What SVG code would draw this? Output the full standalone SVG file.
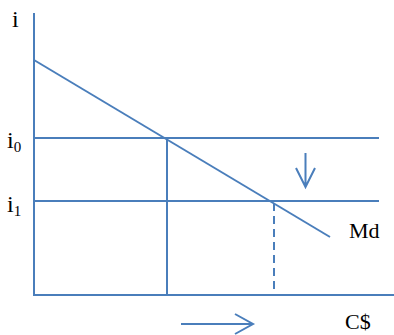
<svg xmlns="http://www.w3.org/2000/svg" width="394" height="335" viewBox="0 0 394 335">
<style>
.ln{stroke:#4A7EBB;stroke-width:2;fill:none}
.dash{stroke-dasharray:8,5}
.t{font-family:"Liberation Serif","Times New Roman",serif;font-size:22px;fill:#000}
.b{font-size:24px}
.s{font-size:15px}
</style>
<rect width="394" height="335" fill="#fff"/>
<g id="connectors">
<line class="ln" x1="34" y1="13" x2="34" y2="296"/>
<line class="ln" x1="33" y1="295" x2="394" y2="295"/>
<line class="ln" x1="34" y1="138" x2="379" y2="138"/>
<line class="ln" x1="34" y1="201" x2="379" y2="201"/>
<line class="ln" x1="34" y1="60" x2="330" y2="237"/>
<line class="ln" x1="167" y1="138" x2="167" y2="295"/>
<line class="ln dash" x1="274" y1="203" x2="274" y2="295"/>
<path class="ln" d="M305.5,153 V187 M296,168 L305.5,187 L315,168"/>
<path class="ln" d="M181,324 H253 M235,314 L253,324 L235,334"/>
</g>
<g id="label-i"><text class="t b" x="12" y="27">i</text></g>
<g id="label-i0"><text class="t b" x="7" y="148">i<tspan class="s" dy="4">0</tspan></text></g>
<g id="label-i1"><text class="t b" x="7" y="212">i<tspan class="s" dy="4">1</tspan></text></g>
<g id="label-md"><text class="t" x="349" y="238">Md</text></g>
<g id="label-cs"><text class="t" x="345" y="329">C$</text></g>
</svg>
